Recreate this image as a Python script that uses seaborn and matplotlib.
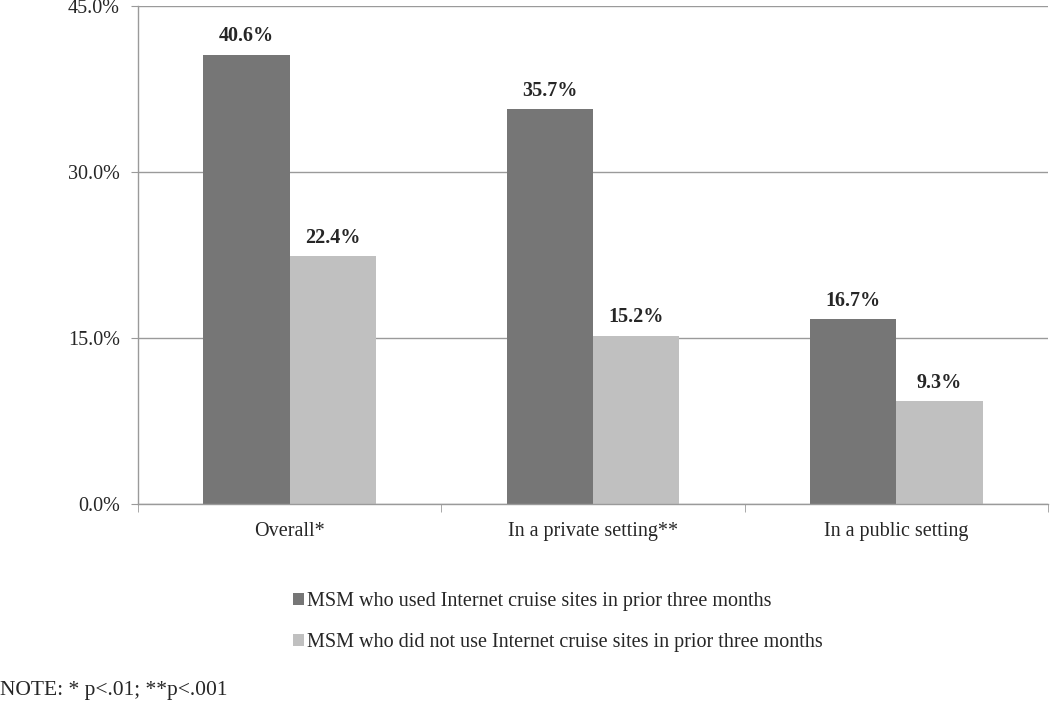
import pandas as pd
import seaborn as sns
import matplotlib.pyplot as plt
from matplotlib.patches import Patch

categories = ["Overall*", "In a private setting**", "In a public setting"]
groups = ["MSM who used Internet cruise sites in prior three months",
          "MSM who did not use Internet cruise sites in prior three months"]
used = [40.6, 35.7, 16.7]
not_used = [22.4, 15.2, 9.3]
colors = ["#767676", "#c0c0c0"]

df = pd.DataFrame({
    "category": categories * 2,
    "group": [groups[0]] * 3 + [groups[1]] * 3,
    "value": used + not_used,
})

sns.set_style("white")
plt.rcParams["font.family"] = ["Liberation Serif", "DejaVu Serif"]

fig = plt.figure(figsize=(10.5, 7.02), dpi=100)
ax = fig.add_axes([0.1314, 0.282, 0.8667, 0.7095])

sns.barplot(data=df, x="category", y="value", hue="group", palette=colors,
            width=0.57, saturation=1, legend=False, linewidth=0, ax=ax)

for cont in ax.containers:
    ax.bar_label(cont, fmt="%.1f%%", padding=6, fontsize=14.5, fontweight="bold")

ax.set_ylim(0, 45)
ax.set_xlim(-0.5, 2.5)
ax.set_yticks([0, 15, 30, 45])
ax.set_yticklabels([f"{v:.1f}%" for v in [0, 15, 30, 45]], fontsize=14.5)
ax.set_xlabel("")
ax.set_ylabel("")
ax.tick_params(axis="x", length=0, labelsize=14.5, pad=13)
ax.set_xticks([-0.5, 0.5, 1.5, 2.5], minor=True)
ax.tick_params(axis="x", which="minor", length=6, color="#9a9a9a", direction="out", bottom=True)
ax.tick_params(axis="y", length=5, color="#9a9a9a", direction="out", left=True, pad=8)
ax.yaxis.grid(True, color="#9a9a9a", linewidth=1)
ax.set_axisbelow(True)
sns.despine(ax=ax, top=True, right=True)
for s in ["left", "bottom"]:
    ax.spines[s].set_color("#9a9a9a")
    ax.spines[s].set_linewidth(1)

handles = [Patch(facecolor=c, edgecolor="none") for c in colors]
fig.legend(handles, groups, loc="upper left", bbox_to_anchor=(0.279, 1 - 592 / 702),
           frameon=False, fontsize=14.5, handlelength=0.55, handleheight=0.55,
           handletextpad=0.15, labelspacing=1.1, borderaxespad=0, borderpad=0)

fig.text(0.0, 1 - 690 / 702, "NOTE: * p<.01; **p<.001", fontsize=15.5, va="center", ha="left")

fig.savefig("out.png", dpi=100)
